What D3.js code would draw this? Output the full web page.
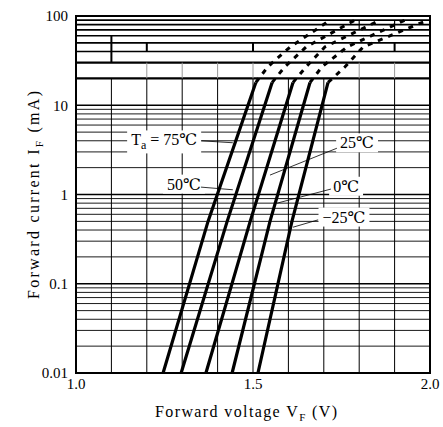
<!DOCTYPE html>
<html><head><meta charset="utf-8">
<script src="https://cdn.jsdelivr.net/npm/d3@7"></script>
<style>
body{margin:0;background:#fff}
svg{display:block}
text{font-family:"Liberation Serif","DejaVu Serif","Times New Roman",serif;fill:#000}
</style>
</head><body>
<svg id="c" width="443" height="427"></svg>
<script>
// ---- data ----
const temps = ["75", "50", "25", "0", "−25"];
const solidCurrents = [0.01, 0.5, 18];            // mA
const solidVoltages = [                            // V, one row per temperature
  [1.246, 1.373, 1.508],
  [1.297, 1.427, 1.554],
  [1.367, 1.492, 1.613],
  [1.441, 1.548, 1.661],
  [1.514, 1.610, 1.712]
];
const bandCurrents = [18, 27, 45, 90];             // mA (upper, high-current part)
const bandVoltages = [
  [1.508, 1.542, 1.605, 1.718],
  [1.554, 1.590, 1.650, 1.788],
  [1.613, 1.650, 1.703, 1.859],
  [1.661, 1.695, 1.766, 1.929],
  [1.712, 1.760, 1.811, 1.994]
];
const xTickValues = [1.0, 1.5, 2.0];
const xTickLabels = ["1.0", "1.5", "2.0"];
const yTickValues = [0.01, 0.1, 1, 10, 100];
const yTickLabels = ["0.01", "0.1", "1", "10", "100"];
// annotation: label text anchor (V, mA) and leader line from/to (V, mA)
const annLabels = ["Ta = 75℃", "50℃", "25℃", "0℃", "−25℃"];
const annTextV = [1.249, 1.305, 1.794, 1.763, 1.757];
const annTextI = [4.1, 1.31, 3.8, 1.24, 0.56];
const annFromV = [1.353, 1.353, 1.737, 1.720, 1.684];
const annFromI = [4.0, 1.21, 3.3, 1.15, 0.52];
const annToV   = [1.443, 1.443, 1.548, 1.568, 1.613];
const annToI   = [3.8, 1.13, 1.65, 0.80, 0.43];

// ---- layout ----
const svg = d3.select("#c");
const L = 76, R = 430, T = 16, B = 373;
const x = d3.scaleLinear().domain([1.0, 2.0]).range([L, R]);
const y = d3.scaleLog().domain([0.01, 100]).range([B, T]);

// grid: horizontals
const g = svg.append("g");
const minor = [];
for (const dec of [0.01, 0.1, 1]) for (let k = 2; k <= 9; k++) minor.push(+(k * dec).toPrecision(3));
const majors = [0.1, 1, 10];
const band = [20, 30, 40, 50, 60, 70, 80, 90];
g.selectAll(".hm").data(minor).join("line")
  .attr("x1", L).attr("x2", R).attr("y1", d => y(d)).attr("y2", d => y(d))
  .attr("stroke", "#000").attr("stroke-width", 0.9);
g.selectAll(".hM").data(majors).join("line")
  .attr("x1", L).attr("x2", R).attr("y1", d => y(d)).attr("y2", d => y(d))
  .attr("stroke", "#000").attr("stroke-width", 1.4);
g.selectAll(".hb").data(band).join("line")
  .attr("x1", L).attr("x2", R).attr("y1", d => y(d)).attr("y2", d => y(d))
  .attr("stroke", "#000").attr("stroke-width", d => d === 20 || d === 30 ? 2.4 : 1.6);

// verticals
const vx = d3.range(1, 10).map(i => 1 + i / 10);
g.selectAll(".v").data(vx).join("line")
  .attr("x1", d => x(d)).attr("x2", d => x(d)).attr("y1", y(0.01)).attr("y2", y(20))
  .attr("stroke", "#000").attr("stroke-width", 1);
// partial verticals inside the high-current band
const bandV1 = [1.1, 1.2, 1.5, 1.9];
g.selectAll(".vb").data(bandV1).join("line")
  .attr("x1", d => x(d)).attr("x2", d => x(d)).attr("y1", y(50)).attr("y2", y(40))
  .attr("stroke", "#000").attr("stroke-width", 2);
const bandV2 = [1.2, 1.3, 1.4, 1.5, 1.8, 1.9];
g.selectAll(".vb2").data(bandV2).join("line")
  .attr("x1", d => x(d)).attr("x2", d => x(d)).attr("y1", y(30)).attr("y2", y(20))
  .attr("stroke", "#999").attr("stroke-width", 1);
g.selectAll(".vb3").data([1.1]).join("line")
  .attr("x1", d => x(d)).attr("x2", d => x(d)).attr("y1", y(40)).attr("y2", y(30))
  .attr("stroke", "#000").attr("stroke-width", 2);
g.selectAll(".vb4").data([1.1]).join("line")
  .attr("x1", d => x(d)).attr("x2", d => x(d)).attr("y1", y(60)).attr("y2", y(50))
  .attr("stroke", "#000").attr("stroke-width", 2);
g.selectAll(".vb5").data([1.8, 1.9]).join("line")
  .attr("x1", d => x(d)).attr("x2", d => x(d)).attr("y1", y(90)).attr("y2", y(70))
  .attr("stroke", "#000").attr("stroke-width", 1.2);

// frame
svg.append("rect").attr("x", L).attr("y", T).attr("width", R - L).attr("height", B - T)
  .attr("fill", "none").attr("stroke", "#000").attr("stroke-width", 2);

// curves
const line = d3.line().x(d => x(d[0])).y(d => y(d[1]));
const cg = svg.append("g");
solidVoltages.forEach((vs, i) => {
  cg.append("path").attr("d", line(vs.map((v, j) => [v, solidCurrents[j]])))
    .attr("fill", "none").attr("stroke", "#000").attr("stroke-width", 3.2);
});
bandVoltages.forEach((vs, i) => {
  cg.append("path").attr("d", line(vs.map((v, j) => [v, bandCurrents[j]])))
    .attr("fill", "none").attr("stroke", "#000").attr("stroke-width", 3)
    .attr("stroke-dasharray", "5,6");
});

// annotations
const ag = svg.append("g");
annLabels.forEach((t, i) => {
  ag.append("line")
    .attr("x1", x(annFromV[i])).attr("y1", y(annFromI[i]))
    .attr("x2", x(annToV[i])).attr("y2", y(annToI[i]))
    .attr("stroke", "#000").attr("stroke-width", 0.8);
  const tx = ag.append("text").attr("x", x(annTextV[i])).attr("y", y(annTextI[i]))
    .attr("text-anchor", "middle").attr("dy", "0.35em").attr("font-size", 16);
  if (t.startsWith("Ta")) {
    tx.append("tspan").text("T");
    tx.append("tspan").text("a").attr("font-size", 12).attr("dy", 4);
    tx.append("tspan").text(" = 75℃").attr("dy", -4);
  } else tx.text(t);
  const bb = tx.node().getBBox();
  ag.insert("rect", "text").attr("x", bb.x - 4).attr("y", bb.y - 1)
    .attr("width", bb.width + 8).attr("height", bb.height + 2).attr("fill", "#fff");
});

// ticks
svg.append("g").selectAll("text").data(yTickValues).join("text")
  .attr("x", 68).attr("y", d => y(d)).attr("dy", "0.35em").attr("text-anchor", "end")
  .attr("font-size", 15).text((d, i) => yTickLabels[i]);
svg.append("g").selectAll("text").data(xTickValues).join("text")
  .attr("x", d => x(d)).attr("y", 389).attr("text-anchor", "middle")
  .attr("font-size", 15).text((d, i) => xTickLabels[i]);

// axis titles
const xt = svg.append("text").attr("x", 246).attr("y", 417).attr("text-anchor", "middle")
  .attr("font-size", 16).attr("textLength", 182).attr("lengthAdjust", "spacing");
xt.append("tspan").text("Forward voltage V");
xt.append("tspan").text("F").attr("font-size", 11).attr("dy", 4);
xt.append("tspan").text("  (V)").attr("dy", -4);

const yt = svg.append("text").attr("transform", "translate(39,195) rotate(-90)")
  .attr("text-anchor", "middle").attr("font-size", 16)
  .attr("textLength", 208).attr("lengthAdjust", "spacing");
yt.append("tspan").text("Forward current I");
yt.append("tspan").text("F").attr("font-size", 11).attr("dy", 4);
yt.append("tspan").text(" (mA)").attr("dy", -4);
</script>
</body></html>
